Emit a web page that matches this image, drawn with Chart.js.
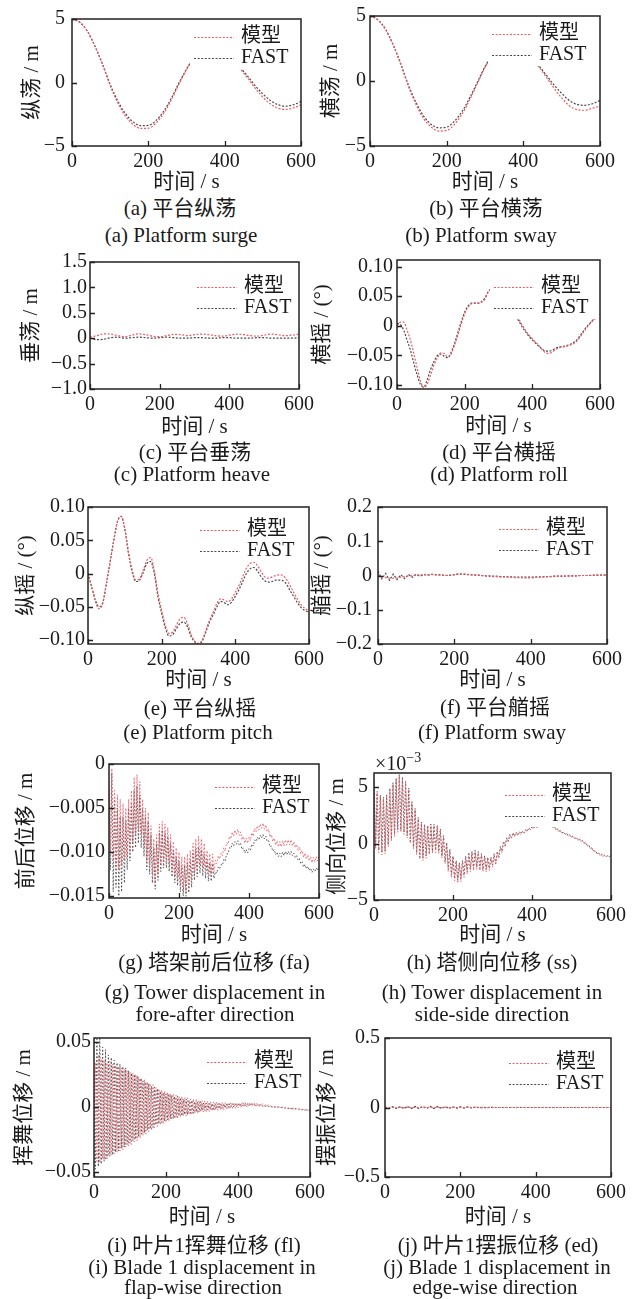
<!DOCTYPE html>
<html>
<head>
<meta charset="utf-8">
<script src="https://cdn.jsdelivr.net/npm/chart.js@4.4.1/dist/chart.umd.min.js"></script>
<style>
  body { margin: 0; background: #fff; }
  #page { position: relative; width: 635px; height: 1299px; overflow: hidden;
          font-family: 'Liberation Serif', 'Noto Sans CJK SC', serif; color: #1a1a1a; }
  #page canvas { position: absolute; }
  .cap { position: absolute; transform: translate(-50%, -50%); white-space: nowrap;
         font-size: 21px; line-height: 1; }
</style>
</head>
<body>
<div id="page"></div>
<script>
/* 模型 vs FAST 对比：平台六自由度、塔架与叶片位移时程 */

// ---- time axes (s) ----
const xTicks = [0, 200, 400, 600];
const xTickLabels = ['0', '200', '400', '600'];

const tSmooth20 = [0, 20, 40, 60, 80, 100, 120, 140, 160, 180, 200, 220, 240, 260, 280, 300,
  320, 340, 360, 380, 400, 420, 440, 460, 480, 500, 520, 540, 560, 580, 600];

const tSmooth10 = [0, 10, 20, 30, 40, 50, 60, 70, 80, 90, 100, 110, 120, 130, 140, 150, 160, 170, 180, 190,
  200, 210, 220, 230, 240, 250, 260, 270, 280, 290, 300, 310, 320, 330, 340, 350, 360, 370, 380, 390,
  400, 410, 420, 430, 440, 450, 460, 470, 480, 490, 500, 510, 520, 530, 540, 550, 560, 570, 580, 590, 600];

const tDense = [
  0, 4, 8, 12, 16, 20, 24, 28, 32, 36,
  40, 44, 48, 52, 56, 60, 64, 68, 72, 76,
  80, 84, 88, 92, 96, 100, 104, 108, 112, 116,
  120, 124, 128, 132, 136, 140, 144, 148, 152, 156,
  160, 164, 168, 172, 176, 180, 184, 188, 192, 196,
  200, 204, 208, 212, 216, 220, 224, 228, 232, 236,
  240, 244, 248, 252, 256, 260, 264, 268, 272, 276,
  280, 284, 288, 292, 296, 300,
  304, 308, 312, 316, 320, 324, 328, 332, 336, 340,
  344, 348, 352, 356, 360, 364, 368, 372, 376, 380,
  384, 388, 392, 396, 400, 404, 408, 412, 416, 420,
  424, 428, 432, 436, 440, 444, 448, 452, 456, 460,
  464, 468, 472, 476, 480, 484, 488, 492, 496, 500,
  504, 508, 512, 516, 520, 524, 528, 532, 536, 540,
  544, 548, 552, 556, 560, 564, 568, 572, 576, 580,
  584, 588, 592, 596, 600];

// ---- (a) surge, m ----
const surgeModel = [5.0, 4.75, 4.05, 2.85, 1.4, -0.25, -1.6, -2.65, -3.3, -3.62, -3.6, -3.2, -2.45, -1.4, -0.15, 1.0,
  1.95, 2.45, 2.65, 2.6, 2.3, 1.75, 1.1, 0.35, -0.45, -1.15, -1.7, -2.02, -2.12, -2.0, -1.75];
const surgeFast = [5.0, 4.75, 4.05, 2.87, 1.45, -0.15, -1.45, -2.45, -3.1, -3.4, -3.38, -3.0, -2.28, -1.25, -0.05, 1.05,
  1.95, 2.45, 2.65, 2.6, 2.32, 1.8, 1.2, 0.5, -0.25, -0.9, -1.42, -1.75, -1.87, -1.75, -1.5];
const ticksPm5 = [-5, 0, 5];
const labelsPm5 = ['−5', '0', '5'];

// ---- (b) sway, m ----
const swayModel = [5.0, 4.72, 4.0, 2.8, 1.3, -0.4, -1.8, -2.9, -3.55, -3.85, -3.8, -3.35, -2.55, -1.45, -0.2, 1.05,
  2.0, 2.55, 2.75, 2.65, 2.3, 1.72, 1.1, 0.3, -0.55, -1.3, -1.9, -2.2, -2.25, -2.1, -1.92];
const swayFast = [5.0, 4.72, 4.0, 2.82, 1.35, -0.3, -1.65, -2.7, -3.35, -3.6, -3.55, -3.1, -2.35, -1.3, -0.1, 1.1,
  2.0, 2.55, 2.75, 2.65, 2.32, 1.78, 1.18, 0.45, -0.3, -0.95, -1.5, -1.8, -1.87, -1.75, -1.5];

// ---- (c) heave, m ----
const heaveModel = [0.02, 0.05, 0.085, 0.08, 0.05, 0.03, 0.06, 0.085, 0.07, 0.04, 0.03, 0.05, 0.075, 0.07, 0.05, 0.07,
  0.08, 0.07, 0.05, 0.04, 0.06, 0.08, 0.07, 0.05, 0.04, 0.06, 0.08, 0.07, 0.05, 0.06, 0.08];
const heaveFast = [0.0, -0.03, -0.02, 0.01, 0.02, 0.0, 0.01, 0.02, 0.01, 0.0, 0.01, 0.02, 0.01, 0.0, 0.0, 0.01,
  0.01, 0.0, 0.0, 0.01, 0.01, 0.0, 0.0, 0.0, 0.01, 0.01, 0.0, 0.0, 0.0, 0.0, 0.01];
const ticksHeave = [-1, -0.5, 0, 0.5, 1, 1.5];
const labelsHeave = ['−1.0', '−0.5', '0', '0.5', '1.0', '1.5'];

// ---- (d) roll, deg ----
const rollModel = [
  0.0, 0.006, 0.006, -0.008, -0.025, -0.048, -0.072, -0.095, -0.105, -0.098,
  -0.082, -0.066, -0.054, -0.046, -0.047, -0.053, -0.048, -0.033, -0.016, 0.003,
  0.02, 0.031, 0.037, 0.038, 0.038, 0.04, 0.045, 0.057, 0.064, 0.067,
  0.065, 0.058, 0.05, 0.04, 0.03, 0.02, 0.011, 0.001, -0.008, -0.016,
  -0.022, -0.028, -0.034, -0.041, -0.046, -0.047, -0.044, -0.04, -0.037, -0.036,
  -0.035, -0.033, -0.031, -0.027, -0.02, -0.012, -0.004, 0.003, 0.009, 0.014,
  0.018];
const rollFast = [
  0.004, 0.002, -0.008, -0.025, -0.042, -0.064, -0.084, -0.1, -0.103, -0.09,
  -0.073, -0.06, -0.05, -0.048, -0.052, -0.054, -0.045, -0.03, -0.012, 0.007,
  0.023, 0.033, 0.038, 0.038, 0.038, 0.041, 0.047, 0.058, 0.063, 0.065,
  0.062, 0.055, 0.047, 0.037, 0.027, 0.017, 0.008, -0.002, -0.01, -0.018,
  -0.024, -0.03, -0.035, -0.04, -0.043, -0.043, -0.041, -0.038, -0.036, -0.035,
  -0.034, -0.032, -0.029, -0.025, -0.018, -0.01, -0.002, 0.004, 0.01, 0.015,
  0.018];
const ticksAngle = [-0.1, -0.05, 0, 0.05, 0.1];
const labelsAngle = ['−0.10', '−0.05', '0', '0.05', '0.10'];

// ---- (e) pitch, deg ----
const pitchModel = [
  0.0, -0.02, -0.042, -0.053, -0.045, -0.015, 0.018, 0.05, 0.078, 0.086,
  0.068, 0.032, 0.005, -0.01, -0.008, 0.005, 0.02, 0.024, 0.005, -0.03,
  -0.055, -0.078, -0.09, -0.088, -0.078, -0.068, -0.066, -0.075, -0.092, -0.102,
  -0.105, -0.1, -0.085, -0.07, -0.058, -0.045, -0.038, -0.04, -0.042, -0.038,
  -0.028, -0.018, -0.005, 0.008, 0.015, 0.017, 0.012, 0.003, -0.005, -0.007,
  -0.005, -0.003, -0.002, -0.003, -0.01, -0.02, -0.03, -0.04, -0.048, -0.053,
  -0.057];
const pitchFast = [
  0.0, -0.02, -0.04, -0.05, -0.044, -0.015, 0.017, 0.05, 0.078, 0.086,
  0.066, 0.03, 0.002, -0.012, -0.01, 0.002, 0.015, 0.018, 0.0, -0.035,
  -0.06, -0.082, -0.094, -0.092, -0.083, -0.075, -0.073, -0.08, -0.095, -0.103,
  -0.106, -0.102, -0.088, -0.073, -0.062, -0.05, -0.042, -0.044, -0.047, -0.043,
  -0.034, -0.024, -0.012, 0.0, 0.007, 0.009, 0.004, -0.005, -0.011, -0.013,
  -0.012, -0.01, -0.01, -0.011, -0.017, -0.027, -0.036, -0.045, -0.052, -0.056,
  -0.058];

// ---- (f) yaw, deg ----
const yawModel = [
  0.0, -0.004, -0.006, -0.008, -0.008, -0.007, -0.005, -0.003, -0.002, 0.0,
  0.001, 0.002, 0.002, 0.002, 0.003, 0.003, 0.002, 0.001, 0.0, 0.001,
  0.003, 0.005, 0.005, 0.004, 0.003, 0.002, 0.001, 0.0, -0.001, -0.002,
  -0.003, -0.003, -0.004, -0.004, -0.005, -0.005, -0.006, -0.006, -0.007, -0.007,
  -0.007, -0.006, -0.005, -0.004, -0.004, -0.003, -0.003, -0.002, -0.002, -0.002,
  -0.002, -0.001, -0.001, 0.0, 0.0, 0.0, 0.001, 0.001, 0.001, 0.001,
  0.002];
const yawFast = [
  0.012, -0.01, 0.006, -0.014, 0.004, -0.012, 0.002, -0.009, 0.003, -0.005,
  0.003, -0.002, 0.003, 0.001, 0.003, 0.002, 0.002, 0.001, 0.0, 0.001,
  0.002, 0.004, 0.004, 0.003, 0.002, 0.002, 0.001, 0.0, -0.001, -0.001,
  -0.002, -0.002, -0.003, -0.003, -0.004, -0.004, -0.005, -0.005, -0.005, -0.005,
  -0.005, -0.005, -0.004, -0.004, -0.003, -0.003, -0.002, -0.002, -0.002, -0.002,
  -0.001, -0.001, -0.001, 0.0, 0.0, 0.0, 0.0, 0.001, 0.001, 0.001,
  0.001];
const ticksYaw = [-0.2, -0.1, 0, 0.1, 0.2];
const labelsYaw = ['−0.2', '−0.1', '0', '0.1', '0.2'];

// ---- (g) tower fore-aft, m ----
const foreAftModel = [
  -0.002, -0.010, -0.0005, -0.011, -0.003, -0.012, -0.0035, -0.012, -0.004, -0.0115,
  -0.0045, -0.011, -0.005, -0.0105, -0.004, -0.010, -0.003, -0.009, -0.0015, -0.008,
  -0.0012, -0.0075, -0.002, -0.008, -0.004, -0.0095, -0.005, -0.011, -0.0055, -0.0115,
  -0.007, -0.0125, -0.0085, -0.0135, -0.008, -0.0125, -0.0068, -0.0115, -0.0065, -0.011,
  -0.0068, -0.011, -0.0072, -0.0115, -0.008, -0.012, -0.0088, -0.0128, -0.0095, -0.013,
  -0.010, -0.0138, -0.0105, -0.0145, -0.0105, -0.0145, -0.0102, -0.014, -0.0098, -0.0132,
  -0.009, -0.0125, -0.0085, -0.012, -0.0082, -0.0115, -0.0085, -0.0118, -0.009, -0.012,
  -0.0098, -0.0125, -0.0102, -0.0125, -0.0102, -0.0122,
  -0.0109, -0.0113, -0.0104, -0.0108, -0.0101, -0.0104, -0.0095, -0.0099, -0.0089, -0.0091,
  -0.0082, -0.0085, -0.0077, -0.0082, -0.0075, -0.0080, -0.0074, -0.0081, -0.0077, -0.0086,
  -0.0082, -0.0090, -0.0084, -0.0090, -0.0083, -0.0087, -0.0078, -0.0082, -0.0073, -0.0077,
  -0.0070, -0.0075, -0.0068, -0.0073, -0.0067, -0.0074, -0.0069, -0.0077, -0.0074, -0.0083,
  -0.0080, -0.0088, -0.0084, -0.0092, -0.0087, -0.0094, -0.0088, -0.0094, -0.0087, -0.0093,
  -0.0086, -0.0092, -0.0086, -0.0092, -0.0086, -0.0093, -0.0088, -0.0095, -0.0091, -0.0098,
  -0.0094, -0.0102, -0.0098, -0.0106, -0.0101, -0.0108, -0.0103, -0.0110, -0.0105, -0.0112,
  -0.0106, -0.0111, -0.0105, -0.0110, -0.0103];
const foreAftFast = [
  -0.003, -0.012, -0.001, -0.0145, -0.004, -0.014, -0.005, -0.015, -0.006, -0.0145,
  -0.006, -0.0135, -0.0065, -0.012, -0.005, -0.011, -0.0045, -0.010, -0.003, -0.0095,
  -0.0025, -0.009, -0.0035, -0.0095, -0.005, -0.0105, -0.006, -0.012, -0.0065, -0.0125,
  -0.008, -0.0135, -0.0095, -0.0142, -0.009, -0.0132, -0.0078, -0.0122, -0.0075, -0.0118,
  -0.0078, -0.0118, -0.0082, -0.0122, -0.009, -0.0128, -0.0098, -0.0135, -0.0105, -0.0138,
  -0.011, -0.0145, -0.0115, -0.015, -0.0115, -0.015, -0.0112, -0.0146, -0.0108, -0.014,
  -0.010, -0.0132, -0.0096, -0.0128, -0.0094, -0.0124, -0.0097, -0.0127, -0.0102, -0.013,
  -0.0108, -0.0133, -0.0112, -0.0133, -0.0113, -0.013,
  -0.0122, -0.0124, -0.0117, -0.0119, -0.0114, -0.0115, -0.0108, -0.0110, -0.0102, -0.0102,
  -0.0095, -0.0096, -0.0090, -0.0093, -0.0088, -0.0091, -0.0087, -0.0092, -0.0090, -0.0097,
  -0.0095, -0.0101, -0.0097, -0.0101, -0.0096, -0.0098, -0.0091, -0.0093, -0.0086, -0.0088,
  -0.0083, -0.0086, -0.0081, -0.0084, -0.0080, -0.0085, -0.0082, -0.0088, -0.0087, -0.0094,
  -0.0093, -0.0099, -0.0097, -0.0103, -0.0100, -0.0105, -0.0101, -0.0105, -0.0100, -0.0104,
  -0.0099, -0.0103, -0.0099, -0.0103, -0.0099, -0.0104, -0.0101, -0.0106, -0.0104, -0.0109,
  -0.0107, -0.0113, -0.0111, -0.0117, -0.0114, -0.0119, -0.0116, -0.0121, -0.0118, -0.0123,
  -0.0119, -0.0122, -0.0118, -0.0121, -0.0116];
const ticksForeAft = [-0.015, -0.01, -0.005, 0];
const labelsForeAft = ['−0.015', '−0.010', '−0.005', '0'];

// ---- (h) tower side-side, ×10⁻³ m ----
const sideModel = [
  5.5, -0.5, 4.5, -0.8, 4.2, -1.0, 4.0, -0.9, 4.2, -0.3,
  4.8, 0.2, 5.2, 0.6, 5.6, 1.0, 6.0, 1.0, 5.8, 0.8,
  5.4, 0.5, 4.8, 0.0, 3.6, -0.5, 3.0, -1.0, 2.2, -1.4,
  1.8, -1.5, 1.6, -1.3, 1.5, -1.0, 1.6, -0.9, 1.6, -0.8,
  1.5, -0.9, 1.2, -1.3, 0.6, -1.8, 0.0, -2.5, -0.6, -3.0,
  -1.2, -3.3, -1.6, -3.5, -1.8, -3.4, -1.6, -3.0, -1.2, -2.7,
  -0.9, -2.5, -0.8, -2.4, -0.7, -2.3, -0.8, -2.4, -1.0, -2.5,
  -1.2, -2.5, -1.3, -2.4, -1.3, -2.1,
  -1.0, -1.9, -0.8, -1.3, -0.35, -0.8, 0.1, -0.3, 0.45, 0.15,
  0.75, 0.45, 0.9, 0.6, 0.95, 0.7, 1.0, 0.8, 1.07, 0.9,
  1.17, 1.05, 1.33, 1.2, 1.44, 1.3, 1.52, 1.38, 1.6, 1.47,
  1.65, 1.51, 1.68, 1.52, 1.67, 1.5, 1.6, 1.4, 1.47, 1.22,
  1.27, 1.03, 1.09, 0.89, 0.97, 0.77, 0.85, 0.65, 0.73, 0.53,
  0.61, 0.41, 0.49, 0.29, 0.37, 0.15, 0.21, -0.01, 0.03, -0.22,
  -0.21, -0.46, -0.45, -0.7, -0.69, -0.9, -0.85, -1.06, -0.99, -1.17,
  -1.06, -1.2, -1.09, -1.2, -1.05];
const sideFast = [
  5.7, -0.3, 4.6, -0.6, 4.3, -0.8, 4.1, -0.7, 4.3, -0.1,
  4.9, 0.4, 5.4, 0.8, 5.8, 1.2, 6.1, 1.2, 5.9, 1.0,
  5.5, 0.7, 4.9, 0.2, 3.7, -0.3, 3.1, -0.8, 2.3, -1.2,
  1.9, -1.3, 1.7, -1.1, 1.6, -0.8, 1.7, -0.7, 1.7, -0.6,
  1.6, -0.7, 1.3, -1.1, 0.7, -1.6, 0.1, -2.3, -0.5, -2.8,
  -1.1, -3.1, -1.5, -3.2, -1.7, -3.1, -1.5, -2.8, -1.1, -2.5,
  -0.8, -2.3, -0.7, -2.2, -0.6, -2.1, -0.7, -2.2, -0.9, -2.3,
  -1.1, -2.3, -1.2, -2.2, -1.2, -1.9,
  -0.9, -1.8, -0.7, -1.2, -0.25, -0.7, 0.2, -0.2, 0.5, 0.2,
  0.8, 0.5, 0.95, 0.65, 1.0, 0.75, 1.05, 0.85, 1.12, 0.95,
  1.22, 1.1, 1.38, 1.25, 1.49, 1.35, 1.57, 1.43, 1.65, 1.52,
  1.7, 1.56, 1.73, 1.57, 1.72, 1.55, 1.65, 1.45, 1.52, 1.27,
  1.32, 1.08, 1.14, 0.94, 1.02, 0.82, 0.9, 0.7, 0.78, 0.58,
  0.66, 0.46, 0.54, 0.34, 0.42, 0.2, 0.26, 0.04, 0.08, -0.17,
  -0.16, -0.41, -0.4, -0.65, -0.64, -0.85, -0.8, -1.01, -0.94, -1.12,
  -1.01, -1.15, -1.04, -1.15, -1.0];

// ---- (i) blade flap-wise, m ----
const flapModel = [
  -0.046, 0.034, -0.042, 0.040, -0.043, 0.037, -0.040, 0.036, -0.041, 0.034,
  -0.038, 0.035, -0.037, 0.033, -0.036, 0.032, -0.035, 0.031, -0.034, 0.030,
  -0.033, 0.029, -0.031, 0.028, -0.030, 0.027, -0.029, 0.026, -0.027, 0.025,
  -0.026, 0.023, -0.024, 0.022, -0.022, 0.021, -0.021, 0.019, -0.019, 0.018,
  -0.018, 0.017, -0.016, 0.015, -0.015, 0.014, -0.014, 0.013, -0.013, 0.012,
  -0.012, 0.011, -0.011, 0.010, -0.010, 0.010, -0.009, 0.009, -0.009, 0.008,
  -0.008, 0.008, -0.007, 0.007, -0.007, 0.007, -0.006, 0.006, -0.006, 0.006,
  -0.005, 0.006, -0.005, 0.005, -0.004, 0.005,
  -0.004, 0.0045, -0.0038, 0.0043, -0.0035, 0.004, -0.0032, 0.0038, -0.003, 0.0036,
  -0.0027, 0.0035, -0.0025, 0.0033, -0.0022, 0.0032, -0.002, 0.0031, -0.0017, 0.003,
  -0.0014, 0.003, -0.0011, 0.0031, -0.0008, 0.0031, -0.0005, 0.0032, -0.0002, 0.0033,
  0.0, 0.0033, 0.0003, 0.0033, 0.0005, 0.0032, 0.0006, 0.003, 0.0006, 0.0027,
  0.0006, 0.0024, 0.0004, 0.002, 0.0002, 0.0016, 0.0, 0.0012, -0.0003, 0.0008,
  -0.0006, 0.0004, -0.0009, 0.0001, -0.0011, -0.0002, -0.0013, -0.0004, -0.0015, -0.0006,
  -0.0017, -0.0008, -0.0019, -0.001, -0.002, -0.0012, -0.0022, -0.0014, -0.0024, -0.0016,
  -0.0025, -0.0018, -0.0027, -0.002, -0.0028];
const flapFast = [
  0.030, -0.048, 0.052, -0.046, 0.055, -0.044, 0.046, -0.042, 0.044, -0.040,
  0.040, -0.038, 0.038, -0.037, 0.036, -0.035, 0.034, -0.034, 0.033, -0.032,
  0.031, -0.031, 0.030, -0.029, 0.028, -0.028, 0.026, -0.026, 0.025, -0.025,
  0.024, -0.023, 0.022, -0.021, 0.020, -0.020, 0.019, -0.018, 0.018, -0.017,
  0.016, -0.016, 0.015, -0.014, 0.014, -0.013, 0.012, -0.012, 0.011, -0.011,
  0.010, -0.010, 0.010, -0.009, 0.009, -0.009, 0.008, -0.008, 0.008, -0.007,
  0.007, -0.007, 0.006, -0.006, 0.006, -0.006, 0.005, -0.005, 0.005, -0.005,
  0.004, -0.004, 0.004, -0.004, 0.004, -0.003,
  0.003, -0.0028, 0.0028, -0.0025, 0.0027, -0.0022, 0.0026, -0.002, 0.0025, -0.0017,
  0.0024, -0.0014, 0.0023, -0.0011, 0.0023, -0.0008, 0.0023, -0.0005, 0.0023, -0.0003,
  0.0024, 0.0, 0.0024, 0.0002, 0.0025, 0.0004, 0.0025, 0.0006, 0.0025, 0.0008,
  0.0025, 0.0009, 0.0024, 0.001, 0.0023, 0.001, 0.0021, 0.0009, 0.0019, 0.0008,
  0.0016, 0.0006, 0.0013, 0.0004, 0.001, 0.0002, 0.0007, 0.0, 0.0004, -0.0002,
  0.0001, -0.0004, -0.0002, -0.0006, -0.0004, -0.0008, -0.0006, -0.001, -0.0008, -0.0012,
  -0.001, -0.0014, -0.0012, -0.0016, -0.0014, -0.0018, -0.0016, -0.002, -0.0018, -0.0022,
  -0.002, -0.0024, -0.0022, -0.0026, -0.0024];
const ticksFlap = [-0.05, 0, 0.05];
const labelsFlap = ['−0.05', '0', '0.05'];

// ---- (j) blade edge-wise, m ----
const edgeModel = [
  0.0, -0.004, 0.003, -0.004, 0.003, -0.003, 0.003, -0.003, 0.002, -0.003,
  0.003, -0.002, 0.002, -0.002, 0.002, -0.002, 0.002, -0.002, 0.002, -0.001,
  0.001, -0.001, 0.001, -0.001, 0.001, 0.0, -0.001, 0.0, 0.0, 0.0,
  0.0, 0.0, 0.0, 0.0, 0.0, 0.0, 0.0, 0.0, 0.0, 0.0,
  0.0, 0.0, 0.0, 0.0, 0.0, 0.0, 0.0, 0.0, 0.0, 0.0,
  0.0, 0.0, 0.0, 0.0, 0.0, 0.0, 0.0, 0.0, 0.0, 0.0,
  0.0];
const edgeFast = [
  0.004, -0.006, 0.006, -0.007, 0.006, -0.007, 0.007, -0.007, 0.008, -0.008,
  0.008, -0.007, 0.007, -0.007, 0.007, -0.006, 0.006, -0.006, 0.005, -0.005,
  0.005, -0.004, 0.004, -0.003, 0.003, -0.002, 0.002, -0.001, 0.001, 0.0,
  0.0, 0.0, 0.0, 0.0, 0.0, 0.0, 0.0, 0.0, 0.0, 0.0,
  0.0, 0.0, 0.0, 0.0, 0.0, 0.0, 0.0, 0.0, 0.0, 0.0,
  0.0, 0.0, 0.0, 0.0, 0.0, 0.0, 0.0, 0.0, 0.0, 0.0,
  0.0];
const ticksEdge = [-0.5, 0, 0.5];
const labelsEdge = ['−0.5', '0', '0.5'];

// ---- styling ----
const FONT = "'Liberation Serif', 'Noto Sans CJK SC', serif";
const INK = '#1a1a1a';
const RED = '#ec5a66';
const GRAY = '#4a4a4a';
Chart.defaults.font.family = FONT;
Chart.defaults.color = INK;

// box = [left, top, right, bottom] of the plot frame on the page
const panels = [
  { box: [72, 15, 302, 146], yMin: -5, yMax: 5, yTicks: ticksPm5, yLabels: labelsPm5, yTitle: '纵荡 / m',
    t: tSmooth20, model: surgeModel, fast: surgeFast, smooth: true, titleX: 33, xTitleOff: 36, tickPad: 7, leg: [60, 18],
    caption: [['(a) 平台纵荡', 180, 208], ['(a) Platform surge', 181, 235]] },
  { box: [370, 15, 601, 146], yMin: -5, yMax: 5, yTicks: ticksPm5, yLabels: labelsPm5, yTitle: '横荡 / m',
    t: tSmooth20, model: swayModel, fast: swayFast, smooth: true, titleX: 332, xTitleOff: 36, tickPad: 4, leg: [61, 18],
    caption: [['(b) 平台横荡', 486, 208], ['(b) Platform sway', 481, 235]] },
  { box: [90, 262, 300, 389], yMin: -1, yMax: 1.5, yTicks: ticksHeave, yLabels: labelsHeave, yTitle: '垂荡 / m',
    t: tSmooth20, model: heaveModel, fast: heaveFast, smooth: true, titleX: 32, xTitleOff: 38, tickPad: 3, leg: [55, 25],
    caption: [['(c) 平台垂荡', 195, 452], ['(c) Platform heave', 192, 474]] },
  { box: [397, 260, 601, 389], yMin: -0.107, yMax: 0.111, yTicks: ticksAngle, yLabels: labelsAngle, yTitle: '横摇 / (°)',
    t: tSmooth10, model: rollModel, fast: rollFast, smooth: true, titleX: 323, xTitleOff: 37, tickPad: 4, leg: [59, 27],
    caption: [['(d) 平台横摇', 499, 452], ['(d) Platform roll', 499, 474]] },
  { box: [88, 507, 310, 644], yMin: -0.106, yMax: 0.1, yTicks: ticksAngle, yLabels: labelsAngle, yTitle: '纵摇 / (°)',
    t: tSmooth10, model: pitchModel, fast: pitchFast, smooth: true, titleX: 27, xTitleOff: 36, tickPad: 3, leg: [62, 23],
    caption: [['(e) 平台纵摇', 200, 708], ['(e) Platform pitch', 198, 732]] },
  { box: [378, 507, 608, 644], yMin: -0.2, yMax: 0.2, yTicks: ticksYaw, yLabels: labelsYaw, yTitle: '艏摇 / (°)',
    t: tSmooth10, model: yawModel, fast: yawFast, smooth: false, titleX: 323, xTitleOff: 36, tickPad: 6, leg: [61, 22],
    caption: [['(f) 平台艏摇', 495, 707], ['(f) Platform sway', 492, 732]] },
  { box: [109, 764, 320, 898], yMin: -0.0152, yMax: 0, yTicks: ticksForeAft, yLabels: labelsForeAft, yTitle: '前后位移 / m',
    t: tDense, model: foreAftModel, fast: foreAftFast, smooth: false, thin: true, titleX: 27, xTitleOff: 37, tickPad: 4, leg: [57, 23],
    caption: [['(g) 塔架前后位移 (fa)', 214, 962], ['(g) Tower displacement in', 215, 992], ['fore-after direction', 215, 1014]] },
  { box: [374, 773, 612, 900], yMin: -5, yMax: 6.24, yTicks: ticksPm5, yLabels: labelsPm5, yTitle: '侧向位移 / m',
    t: tDense, model: sideModel, fast: sideFast, smooth: false, thin: true, titleX: 338, xTitleOff: 35, tickPad: 6, leg: [59, 22],
    exponent: true,
    caption: [['(h) 塔侧向位移 (ss)', 492, 962], ['(h) Tower displacement in', 492, 992], ['side-side direction', 492, 1014]] },
  { box: [94, 1038, 311, 1177], yMin: -0.054, yMax: 0.053, yTicks: ticksFlap, yLabels: labelsFlap, yTitle: '挥舞位移 / m',
    t: tDense, model: flapModel, fast: flapFast, smooth: false, thin: true, titleX: 25, xTitleOff: 40, tickPad: 3, leg: [56, 24],
    caption: [['(i) 叶片1挥舞位移 (fl)', 204, 1245], ['(i) Blade 1 displacement in', 202, 1267], ['flap-wise direction', 203, 1287]] },
  { box: [385, 1038, 612, 1177], yMin: -0.5, yMax: 0.5, yTicks: ticksEdge, yLabels: labelsEdge, yTitle: '摆振位移 / m',
    t: tSmooth10, model: edgeModel, fast: edgeFast, smooth: false, titleX: 328, xTitleOff: 40, tickPad: 5, leg: [55, 25],
    caption: [['(j) 叶片1摆振位移 (ed)', 498, 1245], ['(j) Blade 1 displacement in', 497, 1267], ['edge-wise direction', 495, 1287]] },
];

const page = document.getElementById('page');

// frame, inward ticks and the in-plot legend (white backed)
function framePlugin(p) {
  return {
    id: 'frame',
    afterDatasetsDraw(chart) {
      const { ctx, chartArea: a } = chart;
      ctx.save();

      const tx = a.right - p.leg[0];
      const y1 = a.top + p.leg[1];
      ctx.fillStyle = '#fff';
      ctx.fillRect(tx - 51, y1 - 12, a.right - 1 - (tx - 51), 44);
      chart.data.datasets.forEach((ds, i) => {
        const y = y1 + i * 21;
        ctx.strokeStyle = ds.borderColor;
        ctx.lineWidth = 1.2;
        ctx.setLineDash([2, 1.6]);
        ctx.beginPath();
        ctx.moveTo(tx - 47, y + 0.5);
        ctx.lineTo(tx - 7, y + 0.5);
        ctx.stroke();
        ctx.setLineDash([]);
        ctx.fillStyle = INK;
        ctx.font = '20px ' + FONT;
        ctx.textAlign = 'left';
        ctx.textBaseline = 'middle';
        ctx.fillText(ds.label, tx, y);
      });

      ctx.strokeStyle = '#222';
      ctx.lineWidth = 1.5;
      ctx.strokeRect(a.left, a.top, a.right - a.left, a.bottom - a.top);

      const xs = chart.scales.x, ys = chart.scales.y;
      ctx.lineWidth = 1.3;
      ctx.beginPath();
      xs.ticks.forEach(tk => {
        const x = Math.round(xs.getPixelForValue(tk.value)) + 0.5;
        ctx.moveTo(x, a.bottom);
        ctx.lineTo(x, a.bottom - 5);
      });
      ys.ticks.forEach(tk => {
        const y = Math.round(ys.getPixelForValue(tk.value)) + 0.5;
        ctx.moveTo(a.left, y);
        ctx.lineTo(a.left + 5, y);
      });
      ctx.stroke();

      if (p.exponent) {
        ctx.fillStyle = INK;
        ctx.textAlign = 'left';
        ctx.textBaseline = 'alphabetic';
        ctx.font = '20px ' + FONT;
        ctx.fillText('×10', a.left + 1, a.top - 3);
        const w = ctx.measureText('×10').width;
        ctx.font = '14px ' + FONT;
        ctx.fillText('−3', a.left + 1 + w, a.top - 11);
      }
      ctx.restore();
    }
  };
}

// dense oscillation records get a finer, more open dot pattern
function series(label, t, vals, color, smooth, thin) {
  return {
    label,
    data: t.map((x, i) => ({ x, y: vals[i] })),
    borderColor: color,
    borderWidth: thin ? 0.9 : 1.2,
    borderDash: thin ? [1.6, 2] : [2, 1.6],
    pointRadius: 0,
    fill: false,
    tension: smooth ? 0.35 : 0,
    cubicInterpolationMode: smooth ? 'monotone' : 'default',
  };
}

function drawPanel(p) {
  const [L, T, R, B] = p.box;
  const padTop = Math.min(24, T);
  const padRight = 18;
  const xAxisH = p.xTitleOff + 13;
  const left = Math.round(p.titleX - 12.6);
  const yAxisW = L - left;
  const w = yAxisW + (R - L) + padRight;
  const h = padTop + (B - T) + xAxisH;

  const canvas = document.createElement('canvas');
  canvas.width = w;
  canvas.height = h;
  canvas.style.left = left + 'px';
  canvas.style.top = (T - padTop) + 'px';
  canvas.style.width = w + 'px';
  canvas.style.height = h + 'px';
  page.appendChild(canvas);

  new Chart(canvas, {
    type: 'line',
    data: {
      datasets: [
        series('模型', p.t, p.model, RED, p.smooth, p.thin),
        series('FAST', p.t, p.fast, GRAY, p.smooth, p.thin),
      ],
    },
    options: {
      responsive: false,
      animation: false,
      events: [],
      layout: { padding: { top: padTop, right: padRight, bottom: 0, left: 0 } },
      plugins: { legend: { display: false }, tooltip: { enabled: false } },
      scales: {
        x: {
          type: 'linear', min: 0, max: 600,
          afterBuildTicks: s => { s.ticks = xTicks.map(v => ({ value: v })); },
          afterFit: s => { s.height = xAxisH; },
          grid: { display: false, drawTicks: false },
          border: { display: false },
          ticks: { padding: 4, font: { size: 20 }, maxRotation: 0, autoSkip: false,
                   callback: (v, i) => xTickLabels[i] },
          title: { display: true, text: '时间 / s', font: { size: 21 }, padding: { top: 0, bottom: 0 } },
        },
        y: {
          type: 'linear', min: p.yMin, max: p.yMax,
          afterBuildTicks: s => { s.ticks = p.yTicks.map(v => ({ value: v })); },
          afterFit: s => { s.width = yAxisW; },
          grid: { display: false, drawTicks: false },
          border: { display: false },
          ticks: { padding: p.tickPad, font: { size: 20 }, autoSkip: false,
                   callback: (v, i) => p.yLabels[i] },
          title: { display: true, text: p.yTitle, font: { size: 21 }, padding: { top: 0, bottom: 0 } },
        },
      },
    },
    plugins: [framePlugin(p)],
  });

  p.caption.forEach(([text, cx, cy]) => {
    const d = document.createElement('div');
    d.className = 'cap';
    d.textContent = text;
    d.style.left = cx + 'px';
    d.style.top = cy + 'px';
    page.appendChild(d);
  });
}

panels.forEach(drawPanel);
</script>
</body>
</html>
